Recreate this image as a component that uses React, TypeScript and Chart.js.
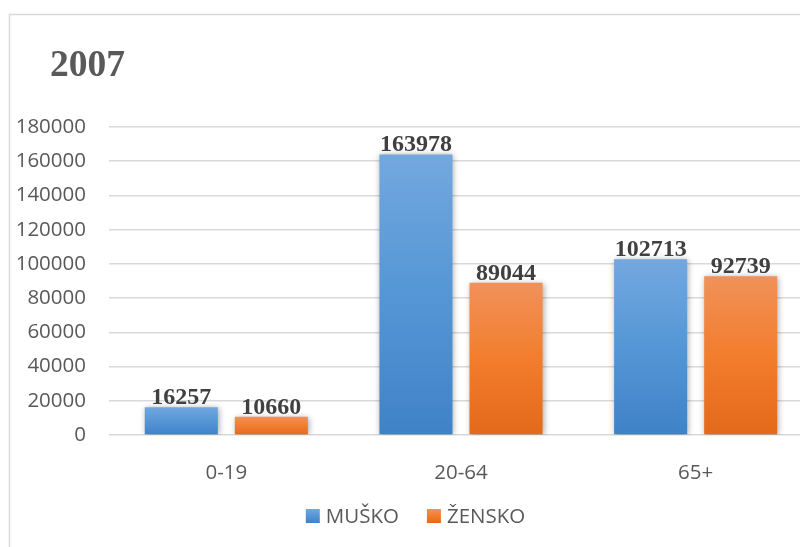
import React, { useEffect, useRef } from "react";
import { Chart, registerables } from "chart.js";

Chart.register(...registerables);

const titleText = "2007";
const categories = ["0-19", "20-64", "65+"];
const seriesNames = ["MUŠKO", "ŽENSKO"];
const muskoValues = [16257, 163978, 102713];
const zenskoValues = [10660, 89044, 92739];
const yMin = 0;
const yMax = 180000;
const yStep = 20000;

const blueStops = ["#72a8de", "#5596d6", "#3f82c6"];
const orangeStops = ["#f1915a", "#f27d2c", "#e4691a"];

const SANS = "'Open Sans', sans-serif";
const SERIF = "'Liberation Serif', 'Times New Roman', serif";

function makeGradient(c: CanvasRenderingContext2D, top: number, bottom: number, stops: string[]) {
  const g = c.createLinearGradient(0, top, 0, bottom);
  g.addColorStop(0, stops[0]);
  g.addColorStop(0.5, stops[1]);
  g.addColorStop(1, stops[2]);
  return g;
}

function barColor(stops: string[]) {
  return (ctx: any) => {
    const chart = ctx.chart;
    if (!chart.chartArea || ctx.type !== "data") return stops[1];
    const y = chart.scales.y;
    const top = y.getPixelForValue(ctx.raw);
    const bottom = y.getPixelForValue(0);
    if (!isFinite(top) || !isFinite(bottom) || top === bottom) return stops[1];
    return makeGradient(chart.ctx, top, bottom, stops);
  };
}

const framePlugin = {
  id: "frame",
  beforeDraw(chart: any) {
    const c = chart.ctx;
    c.save();
    c.fillStyle = "#ffffff";
    c.fillRect(0, 0, chart.width, chart.height);
    c.strokeStyle = "#d9d9d9";
    c.lineWidth = 1.5;
    c.strokeRect(9.5, 14.5, chart.width + 20, chart.height + 20);
    c.fillStyle = "#595959";
    c.font = `bold 37.5px ${SERIF}`;
    c.textAlign = "left";
    c.textBaseline = "alphabetic";
    c.fillText(titleText, 50, 76);
    c.restore();
  },
};

const shadowPlugin = {
  id: "barShadow",
  beforeDatasetsDraw(chart: any) {
    const c = chart.ctx;
    c.save();
    c.shadowColor = "rgba(0,0,0,0.35)";
    c.shadowBlur = 6;
    c.shadowOffsetX = 1;
    c.shadowOffsetY = 1;
  },
  afterDatasetsDraw(chart: any) {
    chart.ctx.restore();
  },
};

const labelsPlugin = {
  id: "valueLabels",
  afterDraw(chart: any) {
    const c = chart.ctx;
    c.save();
    c.font = `bold 24px ${SERIF}`;
    c.fillStyle = "#404040";
    c.textAlign = "center";
    c.textBaseline = "alphabetic";
    chart.data.datasets.forEach((ds: any, di: number) => {
      const meta = chart.getDatasetMeta(di);
      meta.data.forEach((el: any, i: number) => {
        c.fillText(String(ds.data[i]), el.x, el.y - 3);
      });
    });
    c.restore();
  },
};

const legendPlugin = {
  id: "customLegend",
  afterDraw(chart: any) {
    const c = chart.ctx;
    c.save();
    c.font = `20.5px ${SANS}`;
    const box = 14;
    const gapText = 6;
    const gapItems = 28;
    const items = chart.data.datasets.map((ds: any, i: number) => ({
      text: ds.label,
      stops: i === 0 ? blueStops : orangeStops,
      w: box + gapText + c.measureText(ds.label).width,
    }));
    const total = items.reduce((s: number, it: any) => s + it.w, 0) + gapItems * (items.length - 1);
    let x = 415.5 - total / 2;
    const cy = 516;
    items.forEach((it: any) => {
      c.fillStyle = makeGradient(c, cy - box / 2, cy + box / 2, it.stops);
      c.fillRect(x, cy - box / 2, box, box);
      c.fillStyle = "#595959";
      c.textAlign = "left";
      c.textBaseline = "alphabetic";
      c.fillText(it.text, x + box + gapText, 523);
      x += it.w + gapItems;
    });
    c.restore();
  },
};

export default function App() {
  const ref = useRef<HTMLCanvasElement | null>(null);
  useEffect(() => {
    if (!ref.current) return;
    const chart = new Chart(ref.current, {
      type: "bar",
      data: {
        labels: categories,
        datasets: [
          {
            label: seriesNames[0],
            data: muskoValues,
            backgroundColor: barColor(blueStops) as any,
            borderWidth: 0,
            categoryPercentage: 0.7676,
            barPercentage: 0.811,
          },
          {
            label: seriesNames[1],
            data: zenskoValues,
            backgroundColor: barColor(orangeStops) as any,
            borderWidth: 0,
            categoryPercentage: 0.7676,
            barPercentage: 0.811,
          },
        ],
      },
      options: {
        responsive: false,
        animation: false,
        devicePixelRatio: 1,
        layout: { padding: { top: 127, left: 0, right: 0, bottom: 0 } },
        plugins: {
          legend: { display: false },
          title: { display: false },
          tooltip: { enabled: false },
        },
        scales: {
          x: {
            grid: { display: false },
            border: { display: false },
            ticks: { color: "#595959", font: { family: SANS, size: 20.5 }, padding: 18 },
            afterFit: (s: any) => {
              s.height = 112;
            },
          },
          y: {
            min: yMin,
            max: yMax,
            grid: { color: "#d9d9d9", lineWidth: 1.5, drawTicks: false },
            border: { display: false },
            ticks: {
              stepSize: yStep,
              color: "#595959",
              font: { family: SANS, size: 20.5 },
              padding: 23,
              callback: (v: any) => String(v),
            },
            afterFit: (s: any) => {
              s.width = 109;
            },
          },
        },
      },
      plugins: [framePlugin, shadowPlugin, labelsPlugin, legendPlugin],
    });
    return () => chart.destroy();
  }, []);
  return (
    <div style={{ position: "absolute", left: 0, top: 0, width: 800, height: 547, overflow: "hidden", background: "#fff" }}>
      <canvas ref={ref} width={813} height={547} style={{ display: "block" }} />
    </div>
  );
}
